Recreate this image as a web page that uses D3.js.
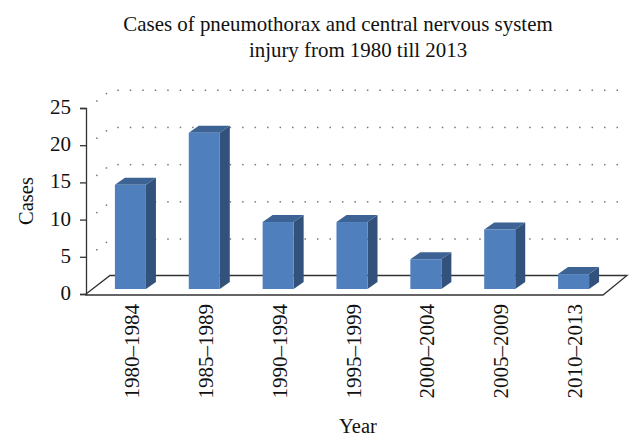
<!DOCTYPE html>
<html>
<head>
<meta charset="utf-8">
<script src="https://cdnjs.cloudflare.com/ajax/libs/d3/7.8.5/d3.min.js"></script>
<style>
  html, body { margin: 0; padding: 0; background: #fff; }
</style>
</head>
<body>
<svg></svg>
<script>
let categories = ['1980–1984', '1985–1989', '1990–1994', '1995–1999', '2000–2004', '2005–2009', '2010–2013'];
let cases = [14, 21, 9, 9, 4, 8, 2];
let yTicks = [0, 5, 10, 15, 20, 25];

let width = 643;
let height = 447;

let svg = d3.select('svg')
    .attr('width', width)
    .attr('height', height)
    .style('display', 'block')
    .attr('font-family', '"Liberation Serif", serif')
    .attr('fill', '#111');

let x = d3.scaleBand().domain(categories).range([86, 603]).paddingInner(0.58).paddingOuter(0.29);
let y = d3.scaleLinear().domain([0, 25]).range([294, 108]);

// depth of the 3d floor and of the bars
let floorDx = 24, floorDy = -18.5;
let barDx = 10, barDy = -7;
let barShiftX = 7.5, barShiftY = -5;

// dotted back wall and side wall
let gridTicks = yTicks.slice(1);
let dotStep = 12.48;
let dots = [];
gridTicks.forEach(t => {
    d3.range(x.range()[0] + floorDx + 7.3, x.range()[1] + floorDx, dotStep)
        .forEach(px => dots.push([px, y(t) + floorDy]));
    [0.42, 0.82].forEach(f => dots.push([x.range()[0] + floorDx * f, y(t) + floorDy * f]));
});
svg.append('g').selectAll('rect')
    .data(dots)
    .enter()
    .append('rect')
    .attr('x', d => d[0])
    .attr('y', d => d[1])
    .attr('width', 1.5)
    .attr('height', 1.5)
    .attr('fill', '#777');

// floor
let x0 = x.range()[0], x1 = x.range()[1];
svg.append('path')
    .attr('d', `M${x0},${y(0)}L${x0 + floorDx},${y(0) + floorDy}L${x1 + floorDx},${y(0) + floorDy}L${x1},${y(0) + 1}L${x0},${y(0) + 1}Z`)
    .attr('fill', '#fff')
    .attr('stroke', '#333')
    .attr('stroke-width', 1.3);

// bars
let bars = svg.selectAll('.bar')
    .data(cases)
    .enter()
    .append('g')
    .attr('class', 'bar')
    .attr('transform', (d, i) => `translate(${x(categories[i]) + barShiftX}, ${barShiftY})`);

bars.append('path')
    .attr('fill', '#32527c')
    .attr('d', d => {
        let w = x.bandwidth();
        return `M${w},${y(d)}L${w + barDx},${y(d) + barDy}L${w + barDx},${y(0) + barDy}L${w},${y(0)}Z`;
    });
bars.append('path')
    .attr('fill', '#3c6394')
    .attr('d', d => {
        let w = x.bandwidth();
        return `M0,${y(d)}L${barDx},${y(d) + barDy}L${w + barDx},${y(d) + barDy}L${w},${y(d)}Z`;
    });
bars.append('rect')
    .attr('fill', '#4f7fbc')
    .attr('x', 0)
    .attr('y', d => y(d))
    .attr('width', x.bandwidth())
    .attr('height', d => y(0) - y(d));

// y axis
let yAxis = d3.axisLeft(y).tickValues(yTicks).tickSize(6).tickPadding(9);
let yG = svg.append('g')
    .attr('transform', `translate(${x0}, 0)`)
    .call(yAxis);
yG.selectAll('path, line').attr('stroke', '#333').attr('stroke-width', 1.3);
yG.selectAll('text').attr('font-size', 21).attr('font-family', '"Liberation Serif", serif').attr('fill', '#111').attr('dy', '0.26em');

// category labels
svg.append('g').selectAll('text')
    .data(categories)
    .enter()
    .append('text')
    .attr('transform', d => `translate(${x(d) + x.bandwidth() / 2 + 16}, 304) rotate(-90)`)
    .attr('text-anchor', 'end')
    .attr('font-size', 21)
    .text(d => d);

svg.append('text')
    .attr('transform', 'translate(33, 201) rotate(-90)')
    .attr('text-anchor', 'middle')
    .attr('font-size', 20.5)
    .text('Cases');

svg.append('text')
    .attr('x', 358)
    .attr('y', 433)
    .attr('text-anchor', 'middle')
    .attr('font-size', 20.5)
    .text('Year');

let title = svg.append('g').attr('text-anchor', 'middle').attr('font-size', 20.9);
title.append('text').attr('x', 338).attr('y', 31).text('Cases of pneumothorax and central nervous system');
title.append('text').attr('x', 358).attr('y', 57).text('injury from 1980 till 2013');
</script>
</body>
</html>
